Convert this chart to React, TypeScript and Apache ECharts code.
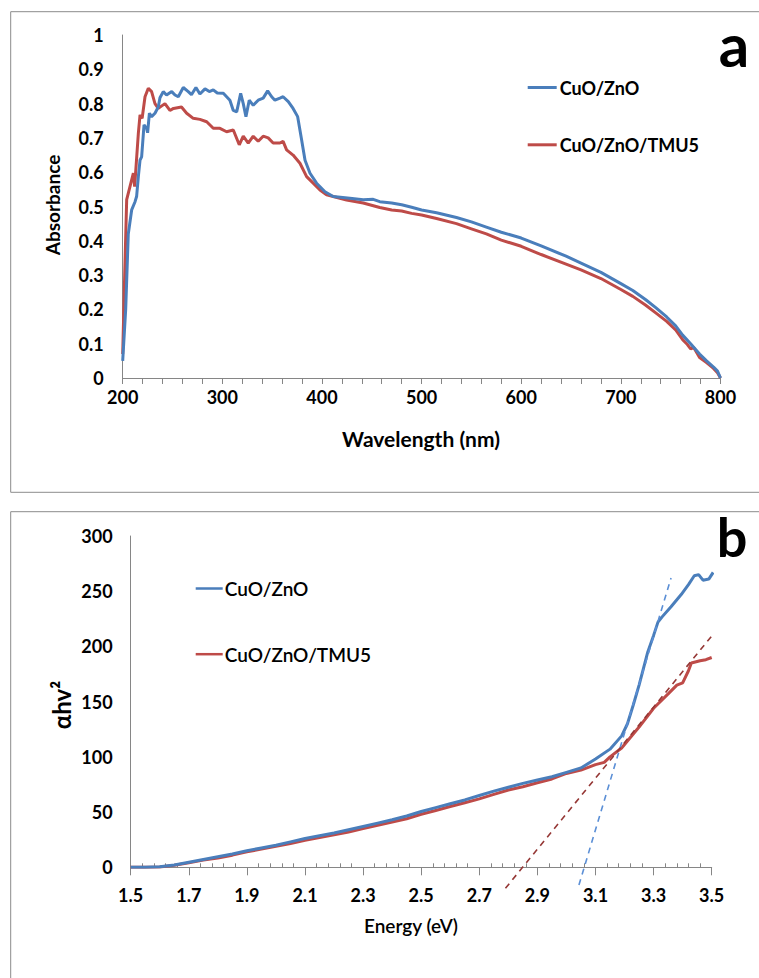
import React, { useEffect, useRef } from "react";
import * as echarts from "echarts";

const BLUE = "#4A7EBB";
const RED = "#BE4B48";
const BLUE_DASH = "#5B8FD6";
const RED_DASH = "#953735";

// Panel a: UV-Vis absorbance
const waveBlue = [200, 203, 205.6, 209, 212.4, 214, 215.7, 217.4, 219, 221.4, 224, 225, 226.8, 229, 232.4, 235.7, 237.4, 240.7, 244, 249.2, 252.5, 255.8, 260.8, 265.8, 269, 273.5, 277.5, 282.6, 286.9, 290.9, 294.9, 301, 307.6, 311, 314.4, 318.4, 321, 323.7, 327, 331, 336, 341, 345.5, 349.5, 352.8, 357.8, 361, 366.2, 371, 375.6, 379.6, 383, 388, 394.6, 403, 411.3, 428, 441.4, 451.4, 458, 470, 480, 490, 500, 515, 535, 550, 565, 580, 600, 620, 645, 660, 680, 700, 712, 725, 735, 746, 755, 762, 770, 779, 786, 793, 797, 800];
const absBlue = [0.05, 0.2, 0.42, 0.49, 0.514, 0.53, 0.587, 0.635, 0.645, 0.738, 0.728, 0.715, 0.772, 0.762, 0.772, 0.79, 0.817, 0.835, 0.825, 0.835, 0.825, 0.82, 0.847, 0.835, 0.826, 0.847, 0.828, 0.843, 0.835, 0.84, 0.831, 0.83, 0.81, 0.78, 0.776, 0.83, 0.8, 0.762, 0.81, 0.795, 0.81, 0.816, 0.837, 0.82, 0.81, 0.816, 0.82, 0.806, 0.786, 0.762, 0.694, 0.635, 0.597, 0.568, 0.543, 0.529, 0.524, 0.52, 0.521, 0.514, 0.51, 0.505, 0.498, 0.49, 0.482, 0.468, 0.455, 0.44, 0.425, 0.408, 0.385, 0.355, 0.335, 0.308, 0.275, 0.255, 0.228, 0.205, 0.178, 0.152, 0.125, 0.1, 0.07, 0.05, 0.032, 0.02, 0];

const waveRed = [200, 202, 204, 207.3, 210.7, 212, 215.7, 217.4, 219.5, 222.4, 225.7, 229, 232.4, 235.7, 242.4, 247.4, 251, 259, 264.2, 270.8, 277.5, 284.3, 290.9, 297.6, 304.3, 311, 317, 321, 326, 331, 336, 341, 346, 351, 357.8, 361, 364.5, 371, 377.9, 384.6, 391.2, 398, 404.6, 411.3, 424.7, 441.4, 458, 470, 480, 490, 500, 515, 535, 550, 565, 580, 600, 620, 645, 660, 680, 700, 712, 725, 735, 746, 755, 762, 766, 770, 773, 779, 786, 793, 797, 800];
const absRed = [0.07, 0.3, 0.52, 0.558, 0.597, 0.558, 0.713, 0.767, 0.757, 0.82, 0.845, 0.835, 0.8, 0.786, 0.8, 0.78, 0.786, 0.79, 0.772, 0.757, 0.754, 0.747, 0.728, 0.728, 0.718, 0.723, 0.68, 0.705, 0.685, 0.705, 0.69, 0.705, 0.7, 0.685, 0.685, 0.69, 0.665, 0.65, 0.626, 0.587, 0.568, 0.548, 0.534, 0.529, 0.519, 0.51, 0.497, 0.49, 0.487, 0.48, 0.475, 0.465, 0.45, 0.435, 0.42, 0.402, 0.384, 0.36, 0.332, 0.315, 0.29, 0.258, 0.238, 0.212, 0.19, 0.165, 0.14, 0.112, 0.1, 0.085, 0.09, 0.06, 0.045, 0.028, 0.015, 0];

// Panel b: Tauc plot
const energyBlue = [1.5, 1.55, 1.6, 1.65, 1.7, 1.75, 1.8, 1.85, 1.9, 1.95, 2.0, 2.05, 2.1, 2.15, 2.2, 2.25, 2.3, 2.35, 2.4, 2.45, 2.5, 2.55, 2.6, 2.65, 2.7, 2.75, 2.8, 2.85, 2.9, 2.95, 3.0, 3.05, 3.1, 3.15, 3.19, 3.21, 3.23, 3.25, 3.28, 3.3, 3.315, 3.33, 3.36, 3.395, 3.42, 3.44, 3.455, 3.47, 3.49, 3.505];
const taucBlue = [0, 0, 0.5, 2, 4.5, 7, 9.5, 12, 15, 17.5, 20, 23, 26, 28.5, 31, 34, 37, 40, 43, 46.5, 50.5, 54, 57.5, 61, 65, 69, 72.5, 76, 79, 82, 86, 90, 98, 107, 119, 130, 147, 165, 195, 210, 222, 227, 236, 247, 256, 264, 265, 260, 261, 267];

const energyRed = [1.5, 1.55, 1.6, 1.65, 1.7, 1.75, 1.8, 1.85, 1.9, 1.95, 2.0, 2.05, 2.1, 2.15, 2.2, 2.25, 2.3, 2.35, 2.4, 2.45, 2.5, 2.55, 2.6, 2.65, 2.7, 2.75, 2.8, 2.85, 2.9, 2.95, 3.0, 3.05, 3.1, 3.13, 3.15, 3.19, 3.25, 3.3, 3.35, 3.38, 3.4, 3.42, 3.43, 3.46, 3.48, 3.5];
const taucRed = [0, 0, 0.3, 1.8, 4, 6.5, 8.5, 11, 14, 16.5, 19, 21.5, 24.5, 27, 29.5, 32, 35, 38, 41, 44, 48, 51.5, 55, 58.5, 62, 66, 70, 73, 76.5, 80, 85, 88, 93, 95, 100, 108, 127, 144, 157, 165, 167, 178, 185, 187, 188, 190];

// Tangent (extrapolation) lines
const fitBlueE = [3.043, 3.36];
const fitBlueY = [-16, 262];
const fitRedE = [2.79, 3.508];
const fitRedY = [-19, 212];

const legendNames = ["CuO/ZnO", "CuO/ZnO/TMU5"];
const xTicksA = [200, 800, 100];
const yTicksA = [0, 1, 0.1];
const xTicksB = [1.5, 3.5, 0.2];
const yTicksB = [0, 300, 50];

const zip = (xs: number[], ys: number[]) => xs.map((x, i) => [x, ys[i]]);

const FONT = "Lato, 'Open Sans', sans-serif";
const AXIS_GRAY = "#868686";

export default function App() {
  const ref = useRef<HTMLDivElement>(null);
  useEffect(() => {
    if (!ref.current) return;
    const chart = echarts.init(ref.current, undefined, { renderer: "svg" });
    const tickLabel = { fontWeight: "bold" as const, fontSize: 18, color: "#000", fontFamily: FONT };
    const option: any = {
      animation: false,
      textStyle: { fontFamily: FONT },
      grid: [
        { left: 122.7, top: 35, width: 597.8, height: 343 },
        { left: 130.7, top: 536, width: 581, height: 331.3 },
      ],
      xAxis: [
        {
          gridIndex: 0, type: "value", min: xTicksA[0], max: xTicksA[1], interval: xTicksA[2],
          axisLine: { lineStyle: { color: AXIS_GRAY, width: 1 } },
          axisTick: { show: true, length: 6, lineStyle: { color: AXIS_GRAY } },
          minorTick: { show: true, splitNumber: 5, length: 6, lineStyle: { color: AXIS_GRAY } },
          splitLine: { show: false },
          axisLabel: { ...tickLabel, margin: 10 },
        },
        {
          gridIndex: 1, type: "value", min: xTicksB[0], max: xTicksB[1], interval: xTicksB[2],
          axisLine: { lineStyle: { color: AXIS_GRAY, width: 1 } },
          axisTick: { show: true, length: 8, lineStyle: { color: AXIS_GRAY } },
          minorTick: { show: true, splitNumber: 5, length: -4, lineStyle: { color: AXIS_GRAY } },
          splitLine: { show: false },
          axisLabel: { ...tickLabel, margin: 19, formatter: (v: number) => v.toFixed(1) },
        },
      ],
      yAxis: [
        {
          gridIndex: 0, type: "value", min: yTicksA[0], max: yTicksA[1], interval: yTicksA[2],
          axisLine: { show: true, lineStyle: { color: AXIS_GRAY, width: 1 } },
          axisTick: { show: false },
          splitLine: { show: false },
          axisLabel: {
            ...tickLabel, margin: 19,
            formatter: (v: number) => (v === 0 ? "0" : v === 1 ? "1" : v.toFixed(1)),
          },
        },
        {
          gridIndex: 1, type: "value", min: yTicksB[0], max: yTicksB[1], interval: yTicksB[2],
          axisLine: { show: true, lineStyle: { color: AXIS_GRAY, width: 1 } },
          axisTick: { show: false },
          splitLine: { show: false },
          axisLabel: { ...tickLabel, margin: 18 },
        },
      ],
      legend: [
        {
          left: 522.7, top: 73.5, orient: "vertical", itemWidth: 29, itemHeight: 3, itemGap: 39.3,
          icon: "rect", data: legendNames, selectedMode: false,
          textStyle: { fontWeight: "bold", fontSize: 18, lineHeight: 18, color: "#000", fontFamily: FONT, padding: [0, 0, 0, -2] },
        },
        {
          left: 190.7, top: 574, orient: "vertical", itemWidth: 27, itemHeight: 2.5, itemGap: 46.7,
          icon: "rect", data: legendNames, selectedMode: false,
          textStyle: { fontWeight: 600, fontSize: 19, lineHeight: 18, color: "#000", fontFamily: FONT, padding: [0, 0, 0, -3] },
        },
      ],
      series: [
        {
          type: "line", name: legendNames[0], xAxisIndex: 0, yAxisIndex: 0, data: zip(waveBlue, absBlue),
          symbol: "none", lineStyle: { color: BLUE, width: 3 }, itemStyle: { color: BLUE }, z: 3,
        },
        {
          type: "line", name: legendNames[1], xAxisIndex: 0, yAxisIndex: 0, data: zip(waveRed, absRed),
          symbol: "none", lineStyle: { color: RED, width: 3 }, itemStyle: { color: RED }, z: 2,
        },
        {
          type: "line", name: legendNames[0], xAxisIndex: 1, yAxisIndex: 1, data: zip(energyBlue, taucBlue),
          symbol: "none", lineStyle: { color: BLUE, width: 3 }, itemStyle: { color: BLUE }, z: 3,
        },
        {
          type: "line", name: legendNames[1], xAxisIndex: 1, yAxisIndex: 1, data: zip(energyRed, taucRed),
          symbol: "none", lineStyle: { color: RED, width: 3 }, itemStyle: { color: RED }, z: 2,
        },
        {
          type: "line", name: "fitBlue", xAxisIndex: 1, yAxisIndex: 1, data: zip(fitBlueE, fitBlueY),
          symbol: "none", clip: false, lineStyle: { color: BLUE_DASH, width: 1.6, type: [6, 5] }, z: 4,
        },
        {
          type: "line", name: "fitRed", xAxisIndex: 1, yAxisIndex: 1, data: zip(fitRedE, fitRedY),
          symbol: "none", clip: false, lineStyle: { color: RED_DASH, width: 1.6, type: [6, 5] }, z: 4,
        },
      ],
      graphic: [
        { type: "rect", shape: { x: 10.7, y: 11.7, width: 800, height: 480.6 }, style: { fill: "none", stroke: "#8C8C8C", lineWidth: 1 }, z: -1 },
        { type: "rect", shape: { x: 10.7, y: 511.7, width: 800, height: 500 }, style: { fill: "none", stroke: "#8C8C8C", lineWidth: 1 }, z: -1 },
        { type: "text", x: 734, y: 44, style: { text: "a", font: `bold 60px ${FONT}`, fill: "#000", align: "center", verticalAlign: "middle" } },
        { type: "text", x: 732, y: 536, style: { text: "b", font: `bold 54px ${FONT}`, fill: "#000", align: "center", verticalAlign: "middle" } },
        { type: "text", x: 421, y: 438, style: { text: "Wavelength (nm)", font: `bold 21px ${FONT}`, fill: "#000", align: "center", verticalAlign: "middle" } },
        { type: "text", x: 52, y: 205, rotation: Math.PI / 2, style: { text: "Absorbance", font: `bold 19px ${FONT}`, fill: "#000", align: "center", verticalAlign: "middle" } },
        { type: "text", x: 411, y: 925, style: { text: "Energy (eV)", font: `600 19px ${FONT}`, fill: "#000", align: "center", verticalAlign: "middle" } },
        { type: "text", x: 61, y: 705, rotation: Math.PI / 2, style: { text: "αhv²", font: `bold 24px ${FONT}`, fill: "#000", align: "center", verticalAlign: "middle" } },
      ],
    };
    chart.setOption(option);
    return () => chart.dispose();
  }, []);
  return <div ref={ref} style={{ position: "absolute", left: 0, top: 0, width: 759, height: 978 }} />;
}
